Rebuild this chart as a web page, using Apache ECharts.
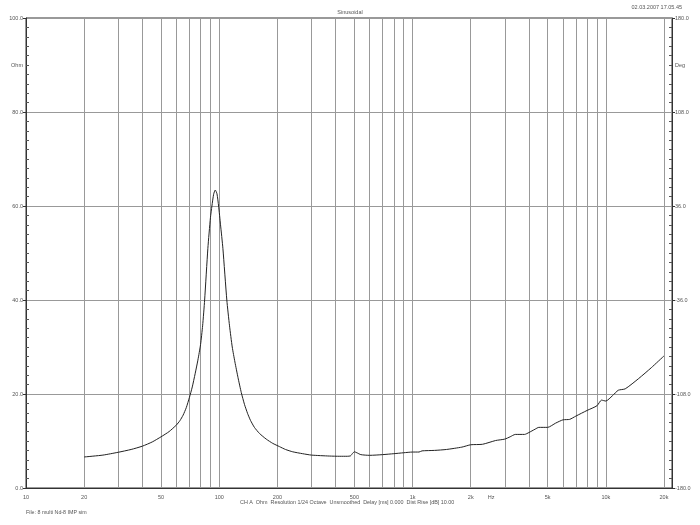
<!DOCTYPE html>
<html>
<head>
<meta charset="utf-8">
<script src="https://cdn.jsdelivr.net/npm/echarts@6/dist/echarts.min.js"></script>
<style>html,body{margin:0;padding:0;background:#fff}#c{width:700px;height:525px}</style>
</head>
<body>
<div id="c"></div>
<script>
// Impedance curve (Hz, Ohm)
const freqs = [20,25,30,35,40,45,50,55,60,62.5,65,67.5,70,72.5,75,77.5,80,82,84,87.3,90,91.6,93.5,95.3,97.3,99.2,101.5,104.4,109.4,113,116.7,120.5,125,130,135,140,145,152,161.5,175,189,205,220,240,270,300,371,420,460,478,490,500,515,540,600,700,800,900,1000,1080,1120,1300,1500,1800,2000,2300,2690,3000,3200,3400,3800,4000,4300,4500,5000,5500,6000,6500,7000,8000,9000,9500,10000,10800,11600,12600,14800,17200,20000];
const ohms  = [6.6,7.0,7.6,8.2,8.9,9.8,10.9,12.0,13.4,14.3,15.5,17.1,19.2,21.5,24.3,27.2,30.5,34.5,40,51,57.5,60,62.5,63.4,62.6,60,56,51,40,34.5,30,26.8,23.5,20.3,17.8,15.9,14.4,12.9,11.6,10.4,9.5,8.8,8.2,7.7,7.3,7.0,6.8,6.75,6.75,6.85,7.4,7.7,7.5,7.1,6.95,7.1,7.3,7.5,7.65,7.65,7.9,8.0,8.2,8.7,9.2,9.3,10.1,10.4,10.9,11.4,11.4,11.8,12.5,12.9,12.9,13.8,14.5,14.6,15.3,16.5,17.5,18.7,18.5,19.6,20.8,21.1,23.3,25.6,28.1];
const gridFreqs = [20,30,40,50,60,70,80,90,100,200,300,400,500,600,700,800,900,1000,2000,3000,4000,5000,6000,7000,8000,9000,10000,20000];
const xLabelVals = [10,20,50,100,200,500,1000,2000,2550,5000,10000,20000];
const xLabelText = ['10','20','50','100','200','500','1k','2k','Hz','5k','10k','20k'];
const yLeftLabels = [0,20,40,60,80,90,100];
const yRightLabels = [-180,-108,-36,36,108,144,180];

const txt = '#555';
const fs = 5.5;
const ff = 'Liberation Sans, Arial, sans-serif';
const chart = echarts.init(document.getElementById('c'));
chart.setOption({
  animation:false,
  backgroundColor:'#fff',
  title:{text:'Sinusoidal',left:'center',top:4,textStyle:{fontSize:fs,fontWeight:'normal',color:txt,fontFamily:ff}},
  grid:{left:26,right:28,top:18,bottom:37,show:true,borderColor:'#333',borderWidth:1,backgroundColor:'transparent'},
  graphic:[
    {type:'text',right:18,top:4,style:{text:'02.03.2007 17.05.45',fontSize:fs,fill:txt,fontFamily:ff}},
    {type:'text',left:240,top:500,style:{text:'CH A  Ohm  Resolution 1/24 Octave  Unsmoothed  Delay [ms] 0.000  Dist Rise [dB] 10.00',fontSize:5.4,fill:txt,fontFamily:ff}},
    {type:'text',left:26,top:510,style:{text:'File: 8 multi Nd-8 IMP sim',fontSize:5.3,fill:txt,fontFamily:ff}}
  ],
  xAxis:{
    type:'log',logBase:10,min:10,max:22000,
    axisLine:{show:true,lineStyle:{color:'#333',width:1}},
    axisTick:{show:false,customValues:gridFreqs},
    splitLine:{show:true,lineStyle:{color:'#999',width:1}},
    axisLabel:{customValues:xLabelVals,fontSize:fs,color:txt,fontFamily:ff,margin:6,
      formatter:function(v){const i=xLabelVals.indexOf(v);return i>=0?xLabelText[i]:'';}}
  },
  yAxis:[
    {type:'value',min:0,max:100,interval:20,position:'left',
      axisLine:{show:true,lineStyle:{color:'#333'}},
      axisTick:{show:true,length:3,lineStyle:{color:'#333'}},
      splitLine:{show:true,lineStyle:{color:'#999',width:1}},
      axisLabel:{customValues:yLeftLabels,fontSize:fs,color:txt,fontFamily:ff,margin:3,
        formatter:function(v){return v===90?'Ohm':v.toFixed(1);}}},
    {type:'value',min:0,max:100,interval:20,position:'left',
      axisLine:{show:false},axisLabel:{show:false},splitLine:{show:false},
      axisTick:{show:false,inside:true},
      minorTick:{show:true,splitNumber:10,length:3,lineStyle:{color:'#555'}}},
    {type:'value',min:-180,max:180,interval:72,position:'right',
      axisLine:{show:true,lineStyle:{color:'#333'}},
      axisTick:{show:true,length:3,lineStyle:{color:'#333'}},
      splitLine:{show:false},
      axisLabel:{customValues:yRightLabels,fontSize:fs,color:txt,fontFamily:ff,margin:3,
        formatter:function(v){return v===144?'Deg':v.toFixed(1);}}},
    {type:'value',min:-180,max:180,interval:72,position:'right',
      axisLine:{show:false},axisLabel:{show:false},splitLine:{show:false},
      axisTick:{show:false,inside:true},
      minorTick:{show:true,splitNumber:10,length:3,lineStyle:{color:'#555'}}}
  ],
  series:[{
    type:'line',xAxisIndex:0,yAxisIndex:0,showSymbol:false,silent:true,smooth:0.2,
    lineStyle:{color:'#222',width:1},
    data:freqs.map((f,i)=>[f,ohms[i]])
  }]
});
</script>
</body>
</html>
